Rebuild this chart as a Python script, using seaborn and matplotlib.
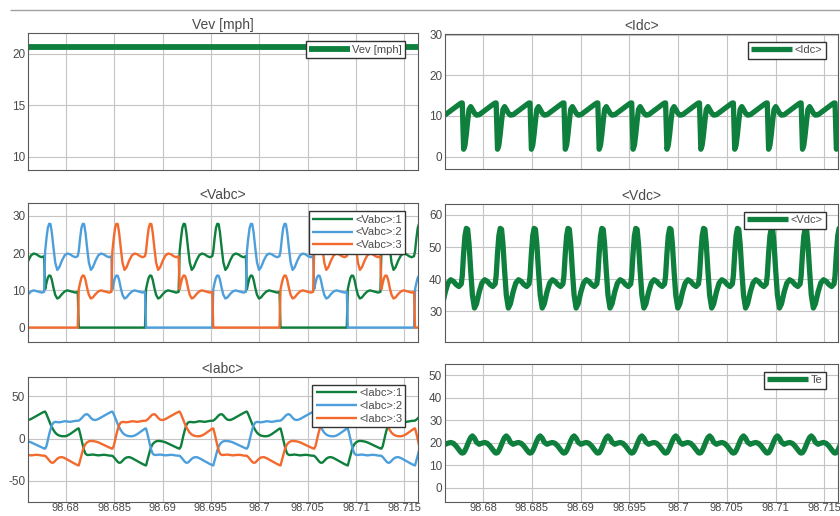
import matplotlib
matplotlib.use("Agg")
import matplotlib.pyplot as plt
import pandas as pd
import seaborn as sns
from matplotlib.lines import Line2D

sns.set_style("white")
plt.rcParams['font.family'] = ['Liberation Sans', 'DejaVu Sans']
plt.rcParams['axes.unicode_minus'] = False
plt.rcParams['lines.solid_joinstyle'] = 'round'
plt.rcParams['lines.solid_capstyle'] = 'butt'

# commutation timing (Idc drops)
t_first = 98.67787
sector_len = 0.003475
sector_ids = list(range(-1, 12))

# sample points inside one commutation sector (fraction of sector)
frac = [0, .04, .08, .12, .16, .2, .25, .3, .36, .42, .5, .58, .66, .74, .82, .9, .97]

vev_level = 20.65
idc_sector = [13.2, 1.8, 2.8, 5.5, 8.8, 11.6, 12.3, 11.6, 10.7, 10.2, 10.3, 10.8, 11.3, 11.8, 12.3, 12.8, 13.2]
vdc_sector = [41, 48, 53.5, 55.8, 55.5, 51, 42.5, 35, 31, 32.3, 36, 38.8, 39.8, 39.3, 38.3, 37.7, 38.5]
te_sector = [15.4, 15.6, 16.5, 17.8, 19.3, 20.8, 22.3, 23.0, 22.0, 20.2, 19.3, 19.8, 20.1, 19.7, 18.5, 16.9, 15.6]

# phase voltage shapes: high, floating, low
vabc_shapes = {
    'H': [20.5, 24, 26.8, 27.9, 27.8, 25.5, 21.3, 17.5, 15.5, 16.2, 18, 19.4, 19.9, 19.7, 19.2, 18.9, 19.2],
    'M': [10.3, 12, 13.4, 14, 13.9, 12.8, 10.6, 8.8, 7.8, 8.1, 9, 9.7, 10, 9.8, 9.6, 9.4, 9.6],
    'L': [0] * 17,
}
# phase current shapes
iabc_shapes = {
    'H1': [-12, -9, -2, 5, 11, 16, 19, 19.8, 19.5, 19.3, 19.8, 20.6, 20.3, 19.8, 20.4, 21, 21.3],
    'H2': [21.3, 22.5, 24, 25.8, 27.5, 28.6, 29, 27.5, 24.5, 22.5, 22, 23.2, 25, 26.8, 28.6, 30.4, 31.8],
    'MH': [32, 29, 25, 21, 17, 13.5, 10, 7, 4.8, 3.5, 2.8, 2.7, 3.5, 5.3, 7.5, 9.8, 11.8],
    'L1': [12, 6, -1, -8, -14, -18, -19.5, -19.5, -19.2, -19, -19.5, -20, -19.6, -19.3, -19.6, -20.2, -20.5],
    'L2': [-20.5, -22, -24, -26, -27.8, -28.8, -28.5, -26.5, -24, -22.5, -22, -23.2, -25, -26.8, -28.6, -30.3, -31.6],
    'ML': [-32, -26, -20, -14, -9.5, -6.5, -4.5, -3.3, -2.8, -3, -3.5, -4.5, -6, -7.5, -9, -10.5, -11.8],
}

# state of each phase in sectors -1 .. 11
vabc_states = {
    '<Vabc>:1': ['H', 'M', 'L', 'L', 'M', 'H', 'H', 'M', 'L', 'L', 'M', 'H', 'H'],
    '<Vabc>:2': ['M', 'H', 'H', 'M', 'L', 'L', 'M', 'H', 'H', 'M', 'L', 'L', 'M'],
    '<Vabc>:3': ['L', 'L', 'M', 'H', 'H', 'M', 'L', 'L', 'M', 'H', 'H', 'M', 'L'],
}
iabc_states = {
    '<Iabc>:1': ['H2', 'MH', 'L1', 'L2', 'ML', 'H1', 'H2', 'MH', 'L1', 'L2', 'ML', 'H1', 'H2'],
    '<Iabc>:2': ['ML', 'H1', 'H2', 'MH', 'L1', 'L2', 'ML', 'H1', 'H2', 'MH', 'L1', 'L2', 'ML'],
    '<Iabc>:3': ['L1', 'L2', 'ML', 'H1', 'H2', 'MH', 'L1', 'L2', 'ML', 'H1', 'H2', 'MH', 'L1'],
}

x_ticks = [98.68, 98.685, 98.69, 98.695, 98.7, 98.705, 98.71, 98.715]
x_labels = ['98.68', '98.685', '98.69', '98.695', '98.7', '98.705', '98.71', '98.715']
x_range = (98.6761, 98.7164)

green, blue, orange = '#0e7f3c', '#4d9fdc', '#f26a2e'
ink = '#4a4a4a'

t = [t_first + (k + f) * sector_len for k in sector_ids for f in frac]


def build(shapes, states):
    vals = []
    for s in states:
        vals += shapes[s]
    return vals


fig = plt.figure(figsize=(8.4, 5.16), dpi=100)
W, H = 840, 516


def make_axes(x0, x1, y0, y1):
    return fig.add_axes([x0 / W, 1 - y1 / H, (x1 - x0) / W, (y1 - y0) / H])


ax_vev = make_axes(28, 418, 33.3, 170)
ax_idc = make_axes(445, 838, 34, 169.5)
ax_vabc = make_axes(28, 418, 203.3, 341.7)
ax_vdc = make_axes(445, 838, 204, 341.7)
ax_iabc = make_axes(28, 418, 376.7, 502)
ax_te = make_axes(445, 838, 364, 502)

# single thick traces
sns.lineplot(x=[x_range[0] - 0.001, x_range[1] + 0.001], y=[vev_level, vev_level],
             color=green, linewidth=4.2, label='Vev [mph]', ax=ax_vev)
sns.lineplot(x=t, y=idc_sector * len(sector_ids), sort=False, estimator=None,
             color=green, linewidth=3.8, label='<Idc>', ax=ax_idc)
sns.lineplot(x=t, y=vdc_sector * len(sector_ids), sort=False, estimator=None,
             color=green, linewidth=3.8, label='<Vdc>', ax=ax_vdc)
sns.lineplot(x=t, y=te_sector * len(sector_ids), sort=False, estimator=None,
             color=green, linewidth=3.8, label='Te', ax=ax_te)

for (name, st), c in zip(vabc_states.items(), [green, blue, orange]):
    sns.lineplot(x=t, y=build(vabc_shapes, st), sort=False, estimator=None,
                 color=c, linewidth=1.7, label=name, ax=ax_vabc)
for (name, st), c in zip(iabc_states.items(), [green, blue, orange]):
    sns.lineplot(x=t, y=build(iabc_shapes, st), sort=False, estimator=None,
                 color=c, linewidth=1.7, label=name, ax=ax_iabc)

panels = [
    (ax_vev, 'Vev [mph]', (8.71, 22.0), [10, 15, 20]),
    (ax_idc, '<Idc>', (-3.2, 30.2), [0, 10, 20, 30]),
    (ax_vabc, '<Vabc>', (-3.8, 33.4), [0, 10, 20, 30]),
    (ax_vdc, '<Vdc>', (20.5, 63.4), [30, 40, 50, 60]),
    (ax_iabc, '<Iabc>', (-75.4, 73.5), [-50, 0, 50]),
    (ax_te, None, (-6.3, 54.9), [0, 10, 20, 30, 40, 50]),
]

for ax, title, ylim, yt in panels:
    ax.set_xlim(*x_range)
    ax.set_ylim(*ylim)
    ax.set_xticks(x_ticks)
    ax.set_xticklabels(x_labels)
    ax.set_yticks(yt)
    ax.set_xlabel('')
    ax.set_ylabel('')
    ax.grid(True, color='#c4c4c4', linewidth=0.8)
    ax.set_axisbelow(True)
    for sp in ax.spines.values():
        sp.set_color('#5a5a5a')
        sp.set_linewidth(0.8)
    ax.tick_params(direction='in', length=3, color='#5a5a5a', labelcolor=ink,
                   labelsize=8.5, pad=2)
    ax.tick_params(axis='x', labelsize=8, pad=0.5)
    if title:
        ax.set_title(title, fontsize=10, color=ink, pad=3)
    if ax not in (ax_iabc, ax_te):
        ax.tick_params(labelbottom=False)
    bb = ax.get_position()
    w_px, h_px = bb.width * W, bb.height * H
    leg = ax.legend(loc='upper right', bbox_to_anchor=(1 - 12.5 / w_px, 1 - 8 / h_px),
                    borderaxespad=0, fontsize=8, frameon=True, fancybox=False,
                    framealpha=1, edgecolor='#333333', handlelength=3.7,
                    handletextpad=0.2, borderpad=0.3, labelspacing=0.25)
    for txt in leg.get_texts():
        txt.set_color(ink)

# separator line of the scope window
fig.add_artist(Line2D([10 / W, 1], [1 - 10 / H, 1 - 10 / H], color='#a0a0a0', linewidth=1))

fig.savefig('out.png', dpi=100)
